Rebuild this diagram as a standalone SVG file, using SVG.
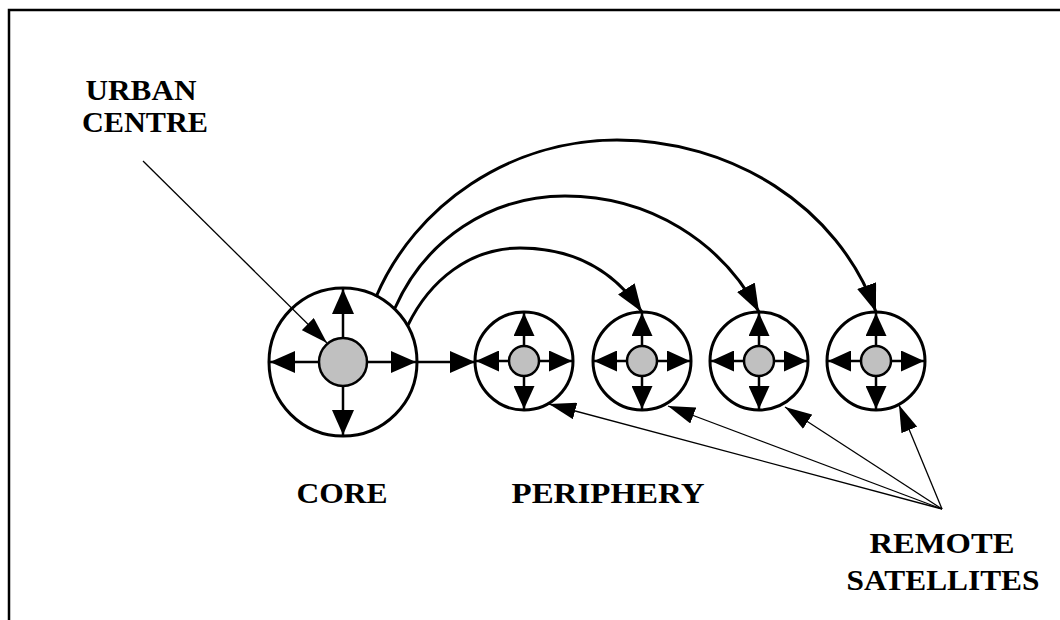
<svg xmlns="http://www.w3.org/2000/svg" width="1060" height="620" viewBox="0 0 1060 620">
<style>
.ring{fill:#fff;stroke:#000;stroke-width:3}
.hub{fill:#c0c0c0;stroke:#000;stroke-width:2.5}
.spoke{stroke:#000;stroke-width:2.5;fill:none}
.arc{stroke:#000;stroke-width:3;fill:none}
.thin{stroke:#000;stroke-width:1.3;fill:none}
.lbl{font-family:"Liberation Serif","DejaVu Serif",serif;font-weight:bold;font-size:29px;fill:#000;text-anchor:middle}
</style>
<defs>
<marker id="ah" viewBox="0 0 25 22" refX="25" refY="11" markerWidth="25" markerHeight="22" markerUnits="userSpaceOnUse" orient="auto"><path d="M0,0 L25,11 L0,22 z" fill="#000"/></marker>
<marker id="ahs" viewBox="0 0 23 21" refX="23" refY="10.5" markerWidth="23" markerHeight="21" markerUnits="userSpaceOnUse" orient="auto"><path d="M0,0 L23,10.5 L0,21 z" fill="#000"/></marker>
<marker id="aa" viewBox="0 0 28 20" refX="28" refY="10" markerWidth="28" markerHeight="20" markerUnits="userSpaceOnUse" orient="auto"><path d="M0,0 L28,10 L0,20 z" fill="#000"/></marker>
<marker id="ap" viewBox="0 0 27 17" refX="27" refY="8.5" markerWidth="27" markerHeight="17" markerUnits="userSpaceOnUse" orient="auto"><path d="M0,0 L27,8.5 L0,17 z" fill="#000"/></marker>
</defs>
<rect width="1060" height="620" fill="#fff"/>
<path d="M9,620 L9,10 L1060,10" fill="none" stroke="#000" stroke-width="2.5"/>

<g id="core">
<circle class="ring" cx="343" cy="362" r="74"/>
<line class="spoke" x1="343" y1="362" x2="343" y2="289" marker-end="url(#ah)"/>
<line class="spoke" x1="343" y1="362" x2="343" y2="435" marker-end="url(#ah)"/>
<line class="spoke" x1="343" y1="362" x2="270" y2="362" marker-end="url(#ah)"/>
<line class="spoke" x1="343" y1="362" x2="416" y2="362" marker-end="url(#ah)"/>
<circle class="hub" cx="343" cy="362" r="24"/>
</g>

<g id="sat1">
<circle class="ring" cx="524" cy="361" r="49"/>
<line class="spoke" x1="524" y1="361" x2="524" y2="313" marker-end="url(#ahs)"/>
<line class="spoke" x1="524" y1="361" x2="524" y2="409" marker-end="url(#ahs)"/>
<line class="spoke" x1="524" y1="361" x2="476" y2="361" marker-end="url(#ahs)"/>
<line class="spoke" x1="524" y1="361" x2="572" y2="361" marker-end="url(#ahs)"/>
<circle class="hub" cx="524" cy="361" r="15"/>
</g>
<g id="sat2">
<circle class="ring" cx="642" cy="361" r="49"/>
<line class="spoke" x1="642" y1="361" x2="642" y2="313" marker-end="url(#ahs)"/>
<line class="spoke" x1="642" y1="361" x2="642" y2="409" marker-end="url(#ahs)"/>
<line class="spoke" x1="642" y1="361" x2="594" y2="361" marker-end="url(#ahs)"/>
<line class="spoke" x1="642" y1="361" x2="690" y2="361" marker-end="url(#ahs)"/>
<circle class="hub" cx="642" cy="361" r="15"/>
</g>
<g id="sat3">
<circle class="ring" cx="759" cy="361" r="49"/>
<line class="spoke" x1="759" y1="361" x2="759" y2="313" marker-end="url(#ahs)"/>
<line class="spoke" x1="759" y1="361" x2="759" y2="409" marker-end="url(#ahs)"/>
<line class="spoke" x1="759" y1="361" x2="711" y2="361" marker-end="url(#ahs)"/>
<line class="spoke" x1="759" y1="361" x2="807" y2="361" marker-end="url(#ahs)"/>
<circle class="hub" cx="759" cy="361" r="15"/>
</g>
<g id="sat4">
<circle class="ring" cx="876" cy="361" r="49"/>
<line class="spoke" x1="876" y1="361" x2="876" y2="313" marker-end="url(#ahs)"/>
<line class="spoke" x1="876" y1="361" x2="876" y2="409" marker-end="url(#ahs)"/>
<line class="spoke" x1="876" y1="361" x2="828" y2="361" marker-end="url(#ahs)"/>
<line class="spoke" x1="876" y1="361" x2="924" y2="361" marker-end="url(#ahs)"/>
<circle class="hub" cx="876" cy="361" r="15"/>
</g>

<g id="connectors">
<line class="spoke" x1="417" y1="362" x2="475" y2="362" marker-end="url(#ah)"/>
<path class="arc" d="M408,325 C430,280 470,248 520,248 C575,248 615,272 642,312" marker-end="url(#aa)"/>
<path class="arc" d="M395,308 C425,240 490,196 565,196 C650,196 722,242 759,312" marker-end="url(#aa)"/>
<path class="arc" d="M376,297 C415,205 510,140 617,140 C730,140 838,205 876,312" marker-end="url(#aa)"/>
<line class="thin" x1="143" y1="161" x2="327" y2="343" marker-end="url(#ap)"/>
<line class="thin" x1="942" y1="509" x2="549" y2="404" marker-end="url(#ap)"/>
<line class="thin" x1="942" y1="509" x2="668" y2="406" marker-end="url(#ap)"/>
<line class="thin" x1="942" y1="509" x2="785" y2="407" marker-end="url(#ap)"/>
<line class="thin" x1="942" y1="509" x2="899" y2="405" marker-end="url(#ap)"/>
</g>

<g id="labels">
<text class="lbl" x="141" y="100" textLength="111" lengthAdjust="spacingAndGlyphs">URBAN</text>
<text class="lbl" x="145" y="132" textLength="126" lengthAdjust="spacingAndGlyphs">CENTRE</text>
<text class="lbl" x="342" y="503" textLength="91" lengthAdjust="spacingAndGlyphs">CORE</text>
<text class="lbl" x="608" y="503" textLength="193" lengthAdjust="spacingAndGlyphs">PERIPHERY</text>
<text class="lbl" x="942" y="553" textLength="145" lengthAdjust="spacingAndGlyphs">REMOTE</text>
<text class="lbl" x="943" y="590" textLength="193" lengthAdjust="spacingAndGlyphs">SATELLITES</text>
</g>
</svg>
